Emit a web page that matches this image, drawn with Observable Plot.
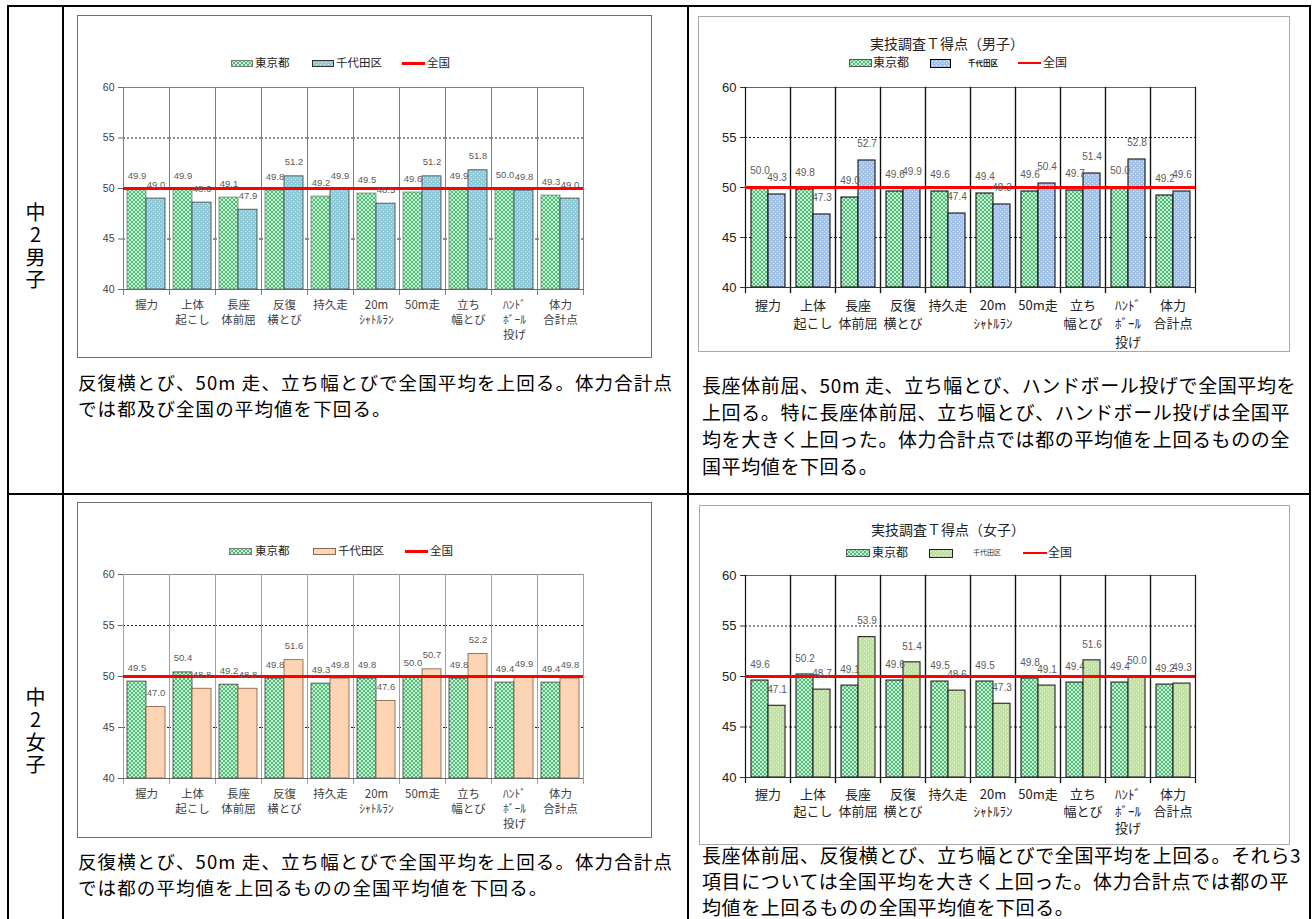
<!DOCTYPE html>
<html><head><meta charset="utf-8">
<script src="https://cdn.jsdelivr.net/npm/d3@7"></script>
<script src="https://cdn.jsdelivr.net/npm/@observablehq/plot@0.6"></script>
<style>
body{margin:0;background:#fff;width:1314px;height:919px;overflow:hidden;position:relative;font-family:"Noto Sans CJK JP","Noto Sans",sans-serif;}
.tl{position:absolute;background:#000;}
.frame{position:absolute;box-sizing:border-box;background:#fff;}
.desc{position:absolute;font-size:19px;color:#000;white-space:nowrap;letter-spacing:0.6px;}
.descL{font-size:18.5px;letter-spacing:1.1px;}
.vlabel{position:absolute;font-size:20px;writing-mode:vertical-rl;text-orientation:upright;letter-spacing:2.5px;line-height:24px;width:24px;}
.lg{position:absolute;white-space:nowrap;color:#222;line-height:1;}
.title{position:absolute;white-space:nowrap;color:#222;transform:translate(-50%,-50%);line-height:1;}
</style></head><body>
<svg width="0" height="0" style="position:absolute">
<defs>
<pattern id="pTokyo" width="4" height="4" patternUnits="userSpaceOnUse">
<rect width="4" height="4" fill="#c9efd4"/><rect x="0" y="0" width="2" height="2" fill="#4fbc78"/><rect x="2" y="2" width="2" height="2" fill="#4fbc78"/>
</pattern>
<pattern id="pBlue1" width="4" height="4" patternUnits="userSpaceOnUse">
<rect width="4" height="4" fill="#8fcadb"/><rect x="0" y="0" width="1" height="1" fill="#d4edf3"/><rect x="2" y="2" width="1" height="1" fill="#d4edf3"/>
</pattern>
<pattern id="pBlue2" width="4" height="4" patternUnits="userSpaceOnUse">
<rect width="4" height="4" fill="#a3c2ea"/><rect x="0" y="0" width="1" height="1" fill="#e4edfa"/><rect x="2" y="2" width="1" height="1" fill="#e4edfa"/>
</pattern>
<pattern id="pOrange" width="4" height="4" patternUnits="userSpaceOnUse">
<rect width="4" height="4" fill="#fbd3b2"/><rect x="0" y="0" width="1" height="1" fill="#fde3cd"/><rect x="2" y="2" width="1" height="1" fill="#fde3cd"/>
</pattern>
<pattern id="pLGreen" width="4" height="4" patternUnits="userSpaceOnUse">
<rect width="4" height="4" fill="#c3dfa8"/><rect x="0" y="0" width="1" height="1" fill="#e9f4de"/><rect x="2" y="2" width="1" height="1" fill="#e9f4de"/>
</pattern>
</defs>
</svg>
<script>
// ---------- data ----------
const categories = ["握力","上体\n起こし","長座\n体前屈","反復\n横とび","持久走","20m\nｼｬﾄﾙﾗﾝ","50m走","立ち\n幅とび","ﾊﾝﾄﾞ\nﾎﾞｰﾙ\n投げ","体力\n合計点"];
const series = ["東京都","千代田区"];
const yTicks = [40,45,50,55,60];
const gridLines = [45,55];
const nationalLine = [50];

const boysTokyoA    = [49.9,49.9,49.1,49.8,49.2,49.5,49.6,49.9,50.0,49.3];
const boysChiyodaA  = [49.0,48.6,47.9,51.2,49.9,48.5,51.2,51.8,49.8,49.0];
const boysTokyoB    = [50.0,49.8,49.0,49.6,49.6,49.4,49.6,49.7,50.0,49.2];
const boysChiyodaB  = [49.3,47.3,52.7,49.9,47.4,48.3,50.4,51.4,52.8,49.6];
const girlsTokyoA   = [49.5,50.4,49.2,49.8,49.3,49.8,50.0,49.8,49.4,49.4];
const girlsChiyodaA = [47.0,48.8,48.8,51.6,49.8,47.6,50.7,52.2,49.9,49.8];
const girlsTokyoB   = [49.6,50.2,49.1,49.6,49.5,49.5,49.8,49.4,49.4,49.2];
const girlsChiyodaB = [47.1,48.7,53.9,51.4,48.6,47.3,49.1,51.6,50.0,49.3];

const rowLabels = ["中2男子","中2女子"];
const titleBoys = "実技調査Ｔ得点（男子）";
const titleGirls = "実技調査Ｔ得点（女子）";
const legendNational = "全国";

const descBoysA = ["反復横とび、50m 走、立ち幅とびで全国平均を上回る。体力合計点","では都及び全国の平均値を下回る。"];
const descBoysB = ["長座体前屈、50m 走、立ち幅とび、ハンドボール投げで全国平均を","上回る。特に長座体前屈、立ち幅とび、ハンドボール投げは全国平","均を大きく上回った。体力合計点では都の平均値を上回るものの全","国平均値を下回る。"];
const descGirlsA = ["反復横とび、50m 走、立ち幅とびで全国平均を上回る。体力合計点","では都の平均値を上回るものの全国平均値を下回る。"];
const descGirlsB = ["長座体前屈、反復横とび、立ち幅とびで全国平均を上回る。それら3","項目については全国平均を大きく上回った。体力合計点では都の平","均値を上回るものの全国平均値を下回る。"];

// ---------- helpers ----------
const body = document.body;
function el(tag, cls, style, html){
  const e = document.createElement(tag);
  if (cls) e.className = cls;
  Object.assign(e.style, style || {});
  if (html != null) e.innerHTML = html;
  body.appendChild(e);
  return e;
}
function rows(tokyo, chiyoda){
  return categories.flatMap((c,i)=>[
    {cat:c, series:series[0], value:tokyo[i]},
    {cat:c, series:series[1], value:chiyoda[i]}
  ]);
}

// table lines
[[7,5,1304,2],[7,493,1304,2],[7,5,2,914],[62,5,2,914],[687,5,2,914],[1309,5,2,914]].forEach(([l,t,w,h])=>{
  el("div","tl",{left:l+"px",top:t+"px",width:w+"px",height:h+"px"});
});

// row labels
el("div","vlabel",{left:"23px",top:"202px"}, rowLabels[0]);
el("div","vlabel",{left:"23px",top:"687px"}, rowLabels[1]);

// chart frames
el("div","frame",{left:"77px",top:"15px",width:"575px",height:"343px",border:"1px solid #6e6e6e"});
el("div","frame",{left:"698px",top:"16px",width:"592px",height:"336px",border:"1px solid #a8a8a8"});
el("div","frame",{left:"77px",top:"502px",width:"575px",height:"336px",border:"1px solid #6e6e6e"});
el("div","frame",{left:"699px",top:"505px",width:"591px",height:"340px",border:"1px solid #a8a8a8"});

// descriptions
function desc(lines, left, top, lh, extra){
  el("div","desc" + (extra ? " " + extra : ""),{left:left+"px",top:top+"px",lineHeight:lh+"px"}, lines.join("<br>"));
}
desc(descBoysA, 78, 370, 25.5, "descL");
desc(descBoysB, 702, 370.5, 27);
desc(descGirlsA, 78, 849, 25.5, "descL");
desc(descGirlsB, 702, 842, 26);

// titles
el("div","title",{left:"947px",top:"43px",fontSize:"14px"}, titleBoys);
el("div","title",{left:"948px",top:"529px",fontSize:"14px"}, titleGirls);

// legends
function legend(cy, items){
  items.forEach(it=>{
    if (it.type === "swatch"){
      const s = document.createElementNS("http://www.w3.org/2000/svg","svg");
      s.setAttribute("width", it.w); s.setAttribute("height", it.h);
      Object.assign(s.style,{position:"absolute",left:it.x+"px",top:(cy-it.h/2)+"px"});
      s.innerHTML = `<rect x="0.5" y="0.5" width="${it.w-1}" height="${it.h-1}" fill="${it.fill}" stroke="${it.stroke}" stroke-width="1"/>`;
      body.appendChild(s);
    } else if (it.type === "line"){
      el("div","tl",{left:it.x+"px",top:(cy-it.h/2)+"px",width:it.w+"px",height:it.h+"px",background:"#ff0000"});
    } else {
      el("div","lg",{left:it.x+"px",top:(cy - it.size*0.55)+"px",fontSize:it.size+"px",fontWeight:it.bold?"bold":"normal"}, it.text);
    }
  });
}
legend(63,[
  {type:"swatch",x:231,w:22,h:7,fill:"url(#pTokyo)",stroke:"#7a7a7a"},
  {type:"text",x:255,text:series[0],size:11.5},
  {type:"swatch",x:312,w:22,h:7,fill:"url(#pBlue1)",stroke:"#333"},
  {type:"text",x:336,text:series[1],size:11.5},
  {type:"line",x:402,w:23,h:3},
  {type:"text",x:427,text:legendNational,size:11.5}
]);
legend(63,[
  {type:"swatch",x:849,w:23,h:8,fill:"url(#pTokyo)",stroke:"#555"},
  {type:"text",x:873,text:series[0],size:12},
  {type:"swatch",x:930,w:21,h:9,fill:"url(#pBlue2)",stroke:"#000"},
  {type:"text",x:968,text:series[1],size:7.5,bold:true},
  {type:"line",x:1018,w:23,h:2},
  {type:"text",x:1043,text:legendNational,size:12}
]);
legend(551,[
  {type:"swatch",x:229,w:23,h:7,fill:"url(#pTokyo)",stroke:"#7a7a7a"},
  {type:"text",x:255,text:series[0],size:11.5},
  {type:"swatch",x:313,w:23,h:7,fill:"url(#pOrange)",stroke:"#8a6a50"},
  {type:"text",x:338,text:series[1],size:11.5},
  {type:"line",x:405,w:23,h:3},
  {type:"text",x:430,text:legendNational,size:11.5}
]);
legend(553,[
  {type:"swatch",x:846,w:24,h:8,fill:"url(#pTokyo)",stroke:"#555"},
  {type:"text",x:872,text:series[0],size:12},
  {type:"swatch",x:929,w:24,h:9,fill:"url(#pLGreen)",stroke:"#222"},
  {type:"text",x:973,text:series[1],size:7,bold:false},
  {type:"line",x:1023,w:24,h:2},
  {type:"text",x:1048,text:legendNational,size:12}
]);

// charts
function drawChart(cfg){
  const data = rows(cfg.tokyo, cfg.chiyoda);
  const svg = Plot.plot({
    width: cfg.width, height: cfg.height,
    marginLeft: cfg.ml, marginRight: cfg.mr, marginTop: cfg.mt, marginBottom: cfg.mb,
    style: {fontFamily: "'Liberation Sans','Noto Sans CJK JP',sans-serif", fontSize: cfg.tickFont+"px", background: "transparent", color: cfg.tickColor, overflow: "visible"},
    fx: {domain: categories, padding: 0},
    x: {domain: series, paddingInner: 0, paddingOuter: cfg.pad, axis: null},
    y: {domain: [40,60]},
    color: {domain: series, range: cfg.fills},
    marks: [
      Plot.ruleY(gridLines, {stroke: "#222", strokeDasharray: "2,2", strokeWidth: 1}),
      Plot.frame({anchor: "top", stroke: cfg.frameColor}),
      Plot.frame({anchor: "left", stroke: cfg.sepColor, strokeWidth: cfg.sepWidth, insetBottom: -5}),
      Plot.frame({anchor: "right", stroke: cfg.sepColor, strokeWidth: cfg.sepWidth, insetBottom: -5}),
      Plot.barY(data, {fx: "cat", x: "series", y1: 40, y2: "value", fill: "series", stroke: d => cfg.strokes[series.indexOf(d.series)], strokeWidth: cfg.barStrokeWidth}),
      Plot.ruleY([40], {stroke: cfg.axisColor}),
      Plot.ruleY(nationalLine, {stroke: "#ff0000", strokeWidth: 3}),
      Plot.text(data, {fx: "cat", x: "series", y: "value", text: d => d.value.toFixed(1), dy: cfg.labelDy, fill: "#5a5a5a", fontSize: cfg.valueFont, fontFamily: cfg.valueFamily}),
      Plot.axisY({ticks: yTicks, tickSize: 5, tickPadding: 4, label: null, fontSize: cfg.tickFont, stroke: cfg.axisColor}),
      Plot.axisFx({anchor: "bottom", tickSize: 0, tickPadding: cfg.fxPad, label: null, fontSize: cfg.catFont, lineHeight: cfg.lh, fontFamily: "'Noto Sans CJK JP','Liberation Sans',sans-serif"})
    ]
  });
  svg.style.position = "absolute";
  svg.style.left = cfg.left + "px";
  svg.style.top = cfg.top + "px";
  body.appendChild(svg);
}

drawChart({tokyo: boysTokyoA, chiyoda: boysChiyodaA, left: 77, top: 75, width: 575, height: 274, ml: 46, mr: 69, mt: 12, mb: 60,
  pad: 0.21, labelDy: -14, tickFont: 10.5, catFont: 11.5, lh: 1.3, fxPad: 9, valueFont: 9.5, valueFamily: "'Liberation Sans',sans-serif",
  sepColor: "#7f7f7f", sepWidth: 1, frameColor: "#7f7f7f", axisColor: "#666", tickColor: "#404040",
  fills: ["url(#pTokyo)","url(#pBlue1)"], strokes: ["#6a8a70","#3a3a3a"], barStrokeWidth: 0.8});

drawChart({tokyo: boysTokyoB, chiyoda: boysChiyodaB, left: 698, top: 75, width: 592, height: 277, ml: 44, mr: 93, mt: 12, mb: 65,
  pad: 0.26, labelDy: -17, tickFont: 13, catFont: 13, lh: 1.42, fxPad: 9, valueFont: 10, valueFamily: "'Liberation Sans',sans-serif",
  sepColor: "#111", sepWidth: 1.2, frameColor: "#666", axisColor: "#333", tickColor: "#222",
  fills: ["url(#pTokyo)","url(#pBlue2)"], strokes: ["#111","#111"], barStrokeWidth: 1.1});

drawChart({tokyo: girlsTokyoA, chiyoda: girlsChiyodaA, left: 77, top: 562, width: 575, height: 271, ml: 46, mr: 69, mt: 12, mb: 55,
  pad: 0.21, labelDy: -14, tickFont: 10.5, catFont: 11.5, lh: 1.3, fxPad: 9, valueFont: 9.5, valueFamily: "'Liberation Sans',sans-serif",
  sepColor: "#a0a0a0", sepWidth: 1, frameColor: "#8a8a8a", axisColor: "#666", tickColor: "#404040",
  fills: ["url(#pTokyo)","url(#pOrange)"], strokes: ["#3a3a3a","#7a5a44"], barStrokeWidth: 0.8});

drawChart({tokyo: girlsTokyoB, chiyoda: girlsChiyodaB, left: 699, top: 563, width: 591, height: 278, ml: 43, mr: 92, mt: 12, mb: 64,
  pad: 0.26, labelDy: -16, tickFont: 13, catFont: 13, lh: 1.31, fxPad: 9, valueFont: 10, valueFamily: "'Liberation Sans',sans-serif",
  sepColor: "#111", sepWidth: 1.2, frameColor: "#666", axisColor: "#333", tickColor: "#222",
  fills: ["url(#pTokyo)","url(#pLGreen)"], strokes: ["#222","#222"], barStrokeWidth: 1.1});
</script>
</body></html>
